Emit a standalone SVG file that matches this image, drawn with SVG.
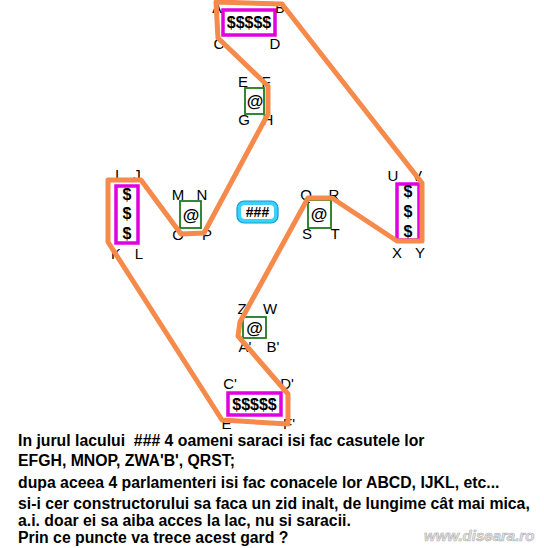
<svg xmlns="http://www.w3.org/2000/svg" width="544" height="548" viewBox="0 0 544 548">
<defs>
<style>
.lbl{font-family:"Liberation Sans",Arial,sans-serif;font-size:15px;fill:#000;text-anchor:middle}
.mg{fill:#fff;stroke:#e000e0;stroke-width:3.5}
.gr{fill:#fff;stroke:#1e7a1e;stroke-width:1.8}
.sym{font-family:"Liberation Sans",Arial,sans-serif;font-size:16px;font-weight:bold;fill:#000;text-anchor:middle}
.at{font-family:"Liberation Sans",Arial,sans-serif;font-size:17px;font-weight:bold;fill:#000;text-anchor:middle}
.txt{font-family:"Liberation Sans",Arial,sans-serif;font-size:15.8px;font-weight:bold;fill:#000;white-space:pre}
.fence{fill:none;stroke:#f58a4b;stroke-width:5;stroke-linejoin:round;stroke-linecap:round}
</style>
</defs>
<rect width="544" height="548" fill="#fff"/>
<g id="ABCD">
<rect class="mg" x="223" y="10" width="52" height="25"/>
<text class="sym" x="249" y="28">$$$$$</text>
<text class="lbl" x="217" y="13" style="font-size:14px">A</text><text class="lbl" x="280" y="13" style="font-size:14px">B</text>
<text class="lbl" x="219" y="49">C</text><text class="lbl" x="275" y="49">D</text>
</g>
<g id="EFGH">
<rect class="gr" x="245" y="88" width="19" height="26"/>
<text class="at" x="255" y="107">@</text>
<text class="lbl" x="243" y="87">E</text><text class="lbl" x="266" y="87">F</text>
<text class="lbl" x="244" y="125">G</text><text class="lbl" x="268" y="125">H</text>
</g>
<g id="IJKL">
<rect class="mg" x="116" y="186" width="22" height="57"/>
<text class="sym" x="127" y="200">$</text><text class="sym" x="127" y="219">$</text><text class="sym" x="127" y="239">$</text>
<text class="lbl" x="117" y="180">I</text><text class="lbl" x="137" y="180">J</text>
<text class="lbl" x="116" y="259">K</text><text class="lbl" x="139" y="259">L</text>
</g>
<g id="MNOP">
<rect class="gr" x="180" y="201" width="21" height="27"/>
<text class="at" x="191" y="221">@</text>
<text class="lbl" x="178" y="200">M</text><text class="lbl" x="202" y="200">N</text>
<text class="lbl" x="178" y="240">O</text><text class="lbl" x="207" y="240">P</text>
</g>
<g id="lake">
<rect x="237" y="201" width="41" height="22" rx="7" fill="#3ad2f5" stroke="#119ad8" stroke-width="1.2"/>
<rect x="241" y="205" width="33" height="14" rx="4" fill="#fff"/>
<text class="sym" x="257.5" y="217" style="font-size:14px">###</text>
</g>
<g id="QRST">
<rect class="gr" x="308" y="200" width="23" height="28"/>
<text class="at" x="319" y="220">@</text>
<text class="lbl" x="306" y="200">Q</text><text class="lbl" x="334" y="200">R</text>
<text class="lbl" x="307" y="239">S</text><text class="lbl" x="335" y="239">T</text>
</g>
<g id="UVXY">
<rect class="mg" x="397" y="184" width="22" height="56"/>
<text class="sym" x="408" y="197">$</text><text class="sym" x="408" y="217">$</text><text class="sym" x="408" y="237">$</text>
<text class="lbl" x="393" y="181">U</text><text class="lbl" x="417" y="181">V</text>
<text class="lbl" x="397" y="258">X</text><text class="lbl" x="420" y="258">Y</text>
</g>
<g id="ZWAB">
<rect class="gr" x="243" y="317" width="23" height="21"/>
<text class="at" x="254.5" y="334">@</text>
<text class="lbl" x="242" y="314">Z</text><text class="lbl" x="270" y="314">W</text>
<text class="lbl" x="245" y="352">A'</text><text class="lbl" x="273" y="352">B'</text>
</g>
<g id="CDEF">
<rect class="mg" x="228" y="393" width="53" height="22"/>
<text class="sym" x="254.5" y="410">$$$$$</text>
<text class="lbl" x="230" y="389">C'</text><text class="lbl" x="287" y="389">D'</text>
<text class="lbl" x="228" y="429">E'</text><text class="lbl" x="289" y="429">F'</text>
</g>
<g id="connectors">
<polygon class="fence" points="216,2 282,4 422,183 422,241 397,241 332,198 308,198 240,322 238,336 288,394 288,424 222,420 108,242 108,180 141,180 181,234 204,233 268,114 268,86 218,38"/>
</g>
<g id="caption">
<text class="txt" x="18" y="446" xml:space="preserve">In jurul lacului  ### 4 oameni saraci isi fac casutele lor</text>
<text class="txt" x="18" y="466">EFGH, MNOP, ZWA'B', QRST;</text>
<text class="txt" x="18" y="488">dupa aceea 4 parlamenteri isi fac conacele lor ABCD, IJKL, etc...</text>
<text class="txt" x="18" y="509">si-i cer constructorului sa faca un zid inalt, de lungime cât mai mica,</text>
<text class="txt" x="18" y="526">a.i. doar ei sa aiba acces la lac, nu si saracii.</text>
<text class="txt" x="18" y="543">Prin ce puncte va trece acest gard ?</text>
<text x="424" y="541" style="font-family:'Liberation Sans',Arial,sans-serif;font-size:15px;font-weight:bold;font-style:italic;fill:#e4e4e4;stroke:#b0b0b0;stroke-width:0.6">www.diseara.ro</text>
</g>
</svg>
